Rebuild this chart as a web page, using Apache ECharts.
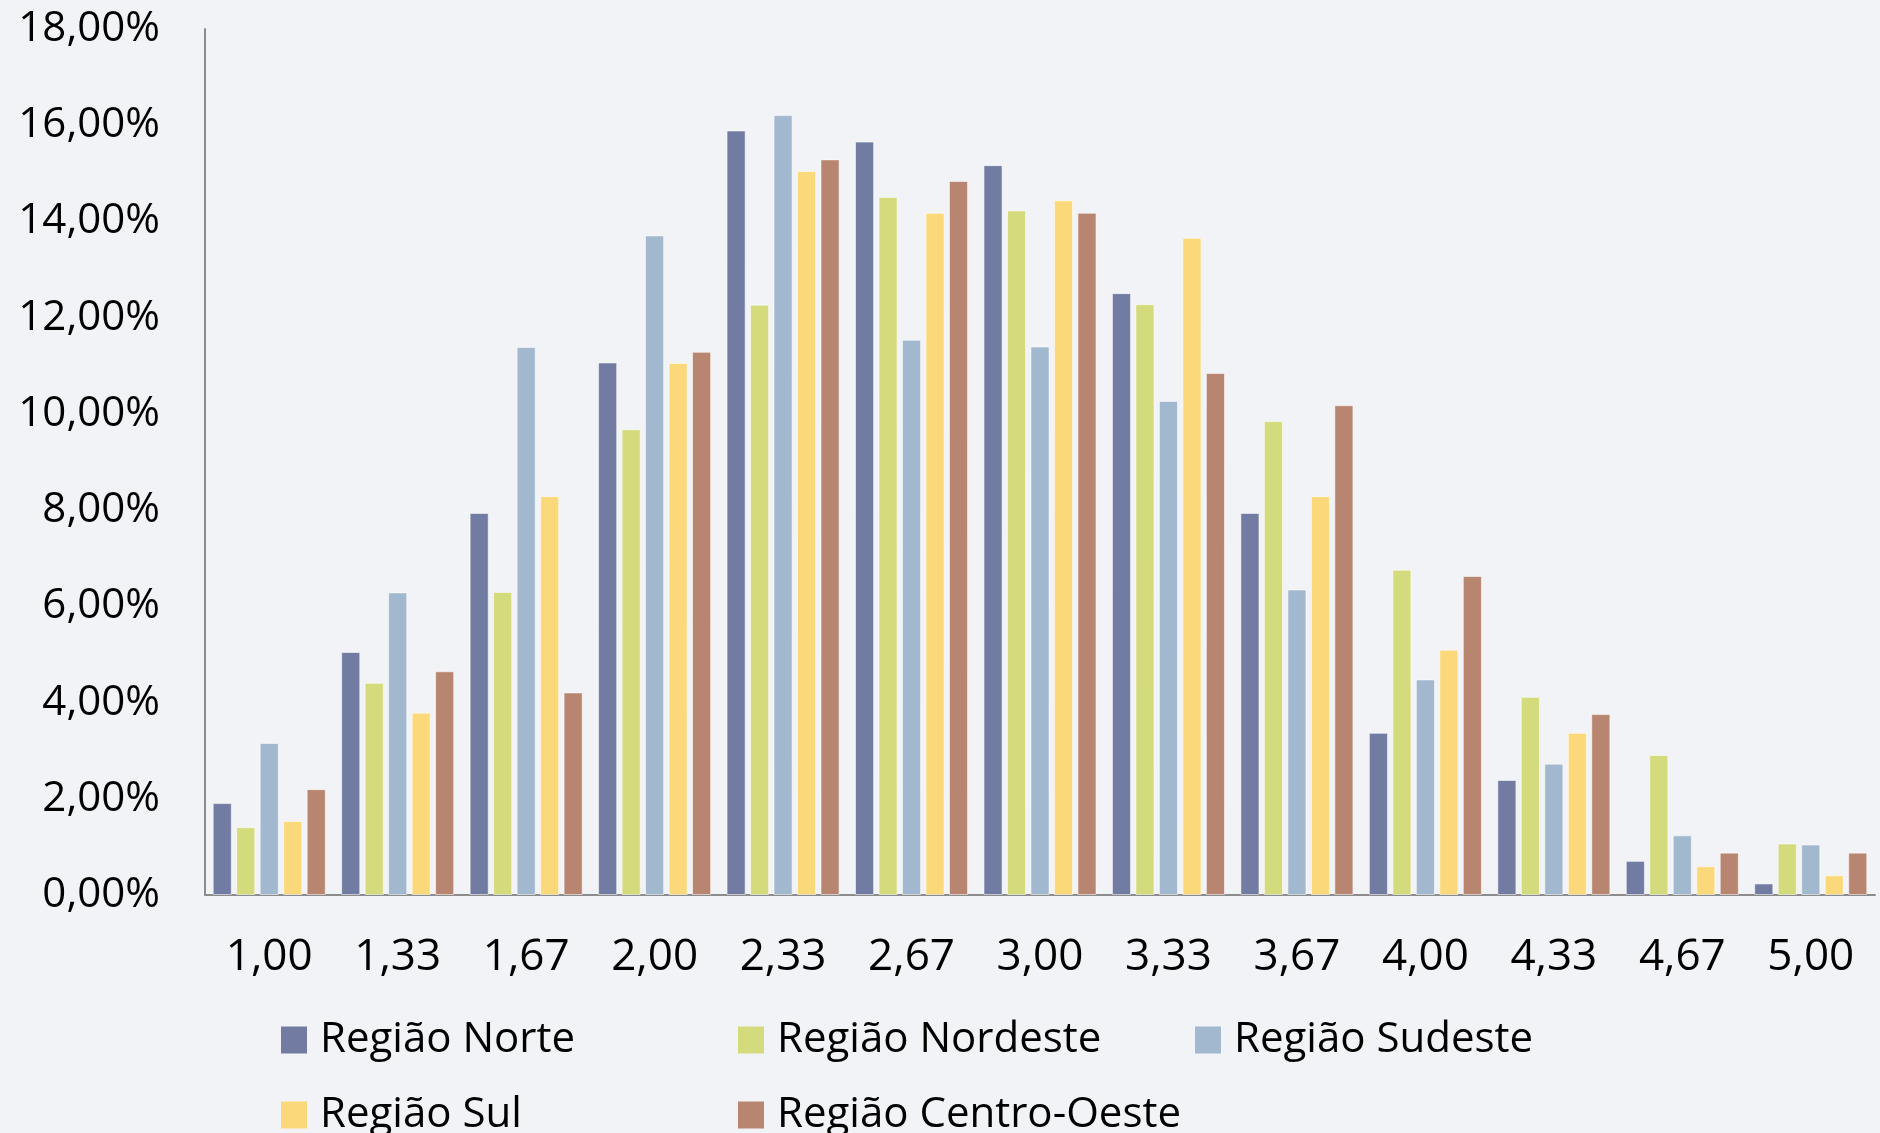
<!DOCTYPE html>
<html>
<head>
<meta charset="utf-8">
<script src="https://cdn.jsdelivr.net/npm/echarts@6/dist/echarts.min.js"></script>
<style>
html,body{margin:0;padding:0;background:#f2f3f6;}
#chart{width:1880px;height:1133px;}
</style>
</head>
<body>
<div id="chart"></div>
<script>
var categories = ['1,00','1,33','1,67','2,00','2,33','2,67','3,00','3,33','3,67','4,00','4,33','4,67','5,00'];
var norte     = [1.91, 5.05, 7.94, 11.07, 15.89, 15.66, 15.17, 12.51, 7.94, 3.37, 2.39, 0.71, 0.24];
var nordeste  = [1.41, 4.41, 6.30, 9.68, 12.27, 14.51, 14.23, 12.28, 9.85, 6.76, 4.12, 2.91, 1.07];
var sudeste   = [3.16, 6.29, 11.39, 13.71, 16.21, 11.54, 11.40, 10.27, 6.35, 4.48, 2.73, 1.24, 1.05];
var sul       = [1.54, 3.79, 8.29, 11.06, 15.05, 14.18, 14.44, 13.66, 8.29, 5.10, 3.37, 0.60, 0.41];
var centroOeste = [2.20, 4.65, 4.21, 11.29, 15.29, 14.84, 14.18, 10.85, 10.18, 6.63, 3.76, 0.88, 0.88];
var seriesNames = ['Região Norte','Região Nordeste','Região Sudeste','Região Sul','Região Centro-Oeste'];
var yTicks = [0, 2, 4, 6, 8, 10, 12, 14, 16, 18];

var colors = ['#727ba2','#d4db7c','#a2b8cf','#fbd97b','#b88571'];
var seriesData = [norte, nordeste, sudeste, sul, centroOeste];
var font = 'Open Sans';

var chart = echarts.init(document.getElementById('chart'));

var series = seriesNames.map(function(n, i){
  return {
    name: n,
    type: 'bar',
    data: seriesData[i],
    barGap: '23%',
    barCategoryGap: '12%',
    itemStyle: { color: colors[i], borderColor: 'rgba(255,255,255,0.55)', borderWidth: 1 }
  };
});

var legendPos = [[281,1019],[738,1019],[1195,1019],[281,1094],[738,1094]];
var legends = seriesNames.map(function(n, i){
  return {
    data: [n],
    left: legendPos[i][0],
    top: legendPos[i][1],
    padding: 0,
    itemWidth: 26,
    itemHeight: 27,
    icon: 'rect',
    selectedMode: false,
    itemStyle: { borderWidth: 0 },
    textStyle: { fontFamily: font, fontSize: 42, color: '#000', padding: [0,0,0,8] }
  };
});

chart.setOption({
  backgroundColor: '#f2f3f6',
  animation: false,
  color: colors,
  grid: { left: 205, right: 5, top: 29, bottom: 238, containLabel: false },
  legend: legends,
  xAxis: {
    type: 'category',
    data: categories,
    axisLine: { lineStyle: { color: '#8c8c8c', width: 2 } },
    axisTick: { show: false },
    axisLabel: { fontFamily: font, fontSize: 44, color: '#000', margin: 40 }
  },
  yAxis: {
    type: 'value',
    min: yTicks[0],
    max: yTicks[yTicks.length-1],
    interval: 2,
    splitLine: { show: false },
    axisLine: { show: true, lineStyle: { color: '#8c8c8c', width: 2 } },
    axisTick: { show: false },
    axisLabel: {
      fontFamily: font, fontSize: 42, color: '#000', margin: 45,
      formatter: function(v){ return v.toFixed(2).replace('.', ',') + '%'; }
    }
  },
  series: series
});
</script>
</body>
</html>
